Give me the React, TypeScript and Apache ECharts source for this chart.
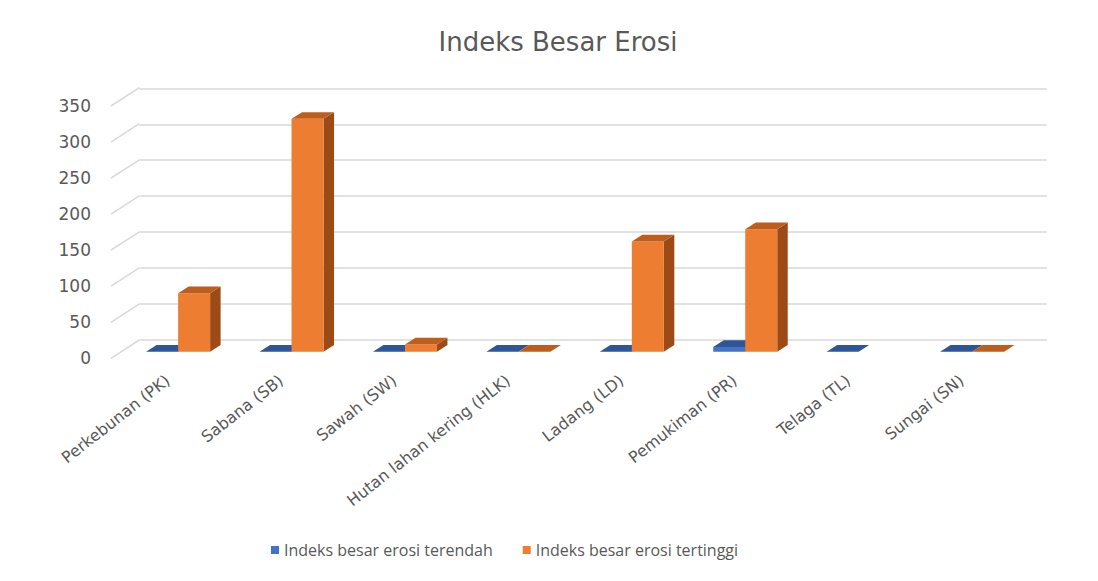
import React, { useEffect, useRef } from "react";
import * as echarts from "echarts";

const categories = [
  "Perkebunan (PK)",
  "Sabana (SB)",
  "Sawah (SW)",
  "Hutan lahan kering (HLK)",
  "Ladang (LD)",
  "Pemukiman (PR)",
  "Telaga (TL)",
  "Sungai (SN)",
];
const seriesNames = ["Indeks besar erosi terendah", "Indeks besar erosi tertinggi"];
const lowValues: (number | null)[] = [0, 0, 0, 0, 0, 6.5, 0, 0];
const highValues: (number | null)[] = [81, 323, 10, 0, 153, 170, null, 0];
const yTicks = [0, 50, 100, 150, 200, 250, 300, 350];
const titleText = "Indeks Besar Erosi";

const FONT = "'DejaVu Sans', 'Open Sans', sans-serif";
const LEGEND_FONT = "'Open Sans', 'Noto Sans', sans-serif";
const TEXT = "#595959";
const GRID_LINE = "#D9D9D9";

// geometry (pixels)
const PLOT_W = 907.4;
const FRONT = { left: 111, top: 106, height: 252.3 };
const BACK = { left: 139.3, top: 88.3, height: 251.7 };
const BAR = { left: 121.4, top: 99.4, height: 252.3 };
const BAR_W = 32;
const BAR_DX = 10.5;
const BAR_DY = -6.7;
const SIDE_DX = BACK.left - FRONT.left;
const SIDE_DY = BACK.top + BACK.height - (FRONT.top + FRONT.height);

const palettes = [
  { front: "#4472C4", side: "#2F528F", top: "#2F5597" },
  { front: "#ED7D31", side: "#9C4A16", top: "#BD5E1E" },
];

function makeBarRender(seriesIdx: number) {
  return (params: any, api: any) => {
    const cat = api.value(0);
    const val = api.value(1);
    if (val === null || val === undefined || isNaN(val)) return null;
    const base = api.coord([cat, 0]);
    const top = api.coord([cat, val]);
    const x0 = seriesIdx === 0 ? base[0] - BAR_W : base[0];
    const x1 = x0 + BAR_W;
    const yb = base[1];
    const yt = top[1];
    const p = palettes[seriesIdx];
    const children: any[] = [];
    if (yb - yt > 0.3) {
      children.push({
        type: "polygon",
        shape: { points: [[x1, yb], [x1 + BAR_DX, yb + BAR_DY], [x1 + BAR_DX, yt + BAR_DY], [x1, yt]] },
        style: { fill: p.side },
      });
      children.push({
        type: "rect",
        shape: { x: x0, y: yt, width: BAR_W, height: yb - yt },
        style: { fill: p.front },
      });
    }
    children.push({
      type: "polygon",
      shape: { points: [[x0, yt], [x1, yt], [x1 + BAR_DX, yt + BAR_DY], [x0 + BAR_DX, yt + BAR_DY]] },
      style: { fill: p.top },
    });
    return { type: "group", children };
  };
}

function sideWallRender(params: any, api: any) {
  const v = api.value(1);
  const y = api.coord([0, v])[1];
  const x = params.coordSys.x;
  return {
    type: "line",
    shape: { x1: x, y1: y, x2: x + SIDE_DX, y2: y + SIDE_DY },
    style: { stroke: GRID_LINE, lineWidth: 1.5 },
  };
}

export default function App() {
  const ref = useRef<HTMLDivElement>(null);
  useEffect(() => {
    if (!ref.current) return;
    const chart = echarts.init(ref.current, null, { renderer: "svg" });
    const yBase = { type: "value", min: 0, max: 350, interval: 50 };
    chart.setOption({
      animation: false,
      backgroundColor: "#ffffff",
      graphic: [
        {
          type: "text",
          x: 558,
          y: 42,
          style: {
            text: titleText,
            fontFamily: FONT,
            fontSize: 26,
            fill: TEXT,
            align: "center",
            verticalAlign: "middle",
          },
        },
      ],
      legend: {
        bottom: 18,
        left: 266,
        itemWidth: 8,
        itemHeight: 8,
        itemGap: 30,
        icon: "rect",
        textStyle: { fontFamily: LEGEND_FONT, fontSize: 16, color: TEXT },
        data: [
          { name: seriesNames[0], itemStyle: { color: palettes[0].front } },
          { name: seriesNames[1], itemStyle: { color: palettes[1].front } },
        ],
      },
      grid: [
        { left: BACK.left, top: BACK.top, width: PLOT_W, height: BACK.height },
        { left: FRONT.left, top: FRONT.top, width: PLOT_W, height: FRONT.height },
        { left: BAR.left, top: BAR.top, width: PLOT_W, height: BAR.height },
      ],
      xAxis: [
        { type: "category", gridIndex: 0, data: categories, show: false },
        {
          type: "category",
          gridIndex: 1,
          data: categories,
          axisLine: { show: false },
          axisTick: { show: false },
          axisLabel: {
            rotate: 38,
            margin: 20,
            interval: 0,
            fontFamily: FONT,
            fontSize: 16,
            color: TEXT,
          },
        },
        { type: "category", gridIndex: 2, data: categories, show: false },
      ],
      yAxis: [
        {
          ...yBase,
          gridIndex: 0,
          axisLabel: { show: false },
          axisLine: { show: false },
          axisTick: { show: false },
          splitLine: { show: true, lineStyle: { color: GRID_LINE, width: 1.5 } },
        },
        {
          ...yBase,
          gridIndex: 1,
          axisLine: { show: false },
          axisTick: { show: false },
          splitLine: { show: false },
          axisLabel: { margin: 20, fontFamily: FONT, fontSize: 17, color: TEXT },
        },
        { ...yBase, gridIndex: 2, show: false, splitLine: { show: false } },
      ],
      series: [
        {
          type: "custom",
          name: "sidewall",
          xAxisIndex: 1,
          yAxisIndex: 1,
          silent: true,
          renderItem: sideWallRender,
          data: yTicks.map((v) => [0, v]),
          z: 1,
        },
        {
          type: "custom",
          name: seriesNames[0],
          xAxisIndex: 2,
          yAxisIndex: 2,
          itemStyle: { color: palettes[0].front },
          renderItem: makeBarRender(0),
          data: lowValues.map((v, i) => [i, v === null ? NaN : v]),
          z: 2,
        },
        {
          type: "custom",
          name: seriesNames[1],
          xAxisIndex: 2,
          yAxisIndex: 2,
          itemStyle: { color: palettes[1].front },
          renderItem: makeBarRender(1),
          data: highValues.map((v, i) => [i, v === null ? NaN : v]),
          z: 3,
        },
      ],
    });
    return () => chart.dispose();
  }, []);
  return (
    <div
      ref={ref}
      style={{ position: "absolute", left: 0, top: 0, width: 1098, height: 581 }}
    />
  );
}
